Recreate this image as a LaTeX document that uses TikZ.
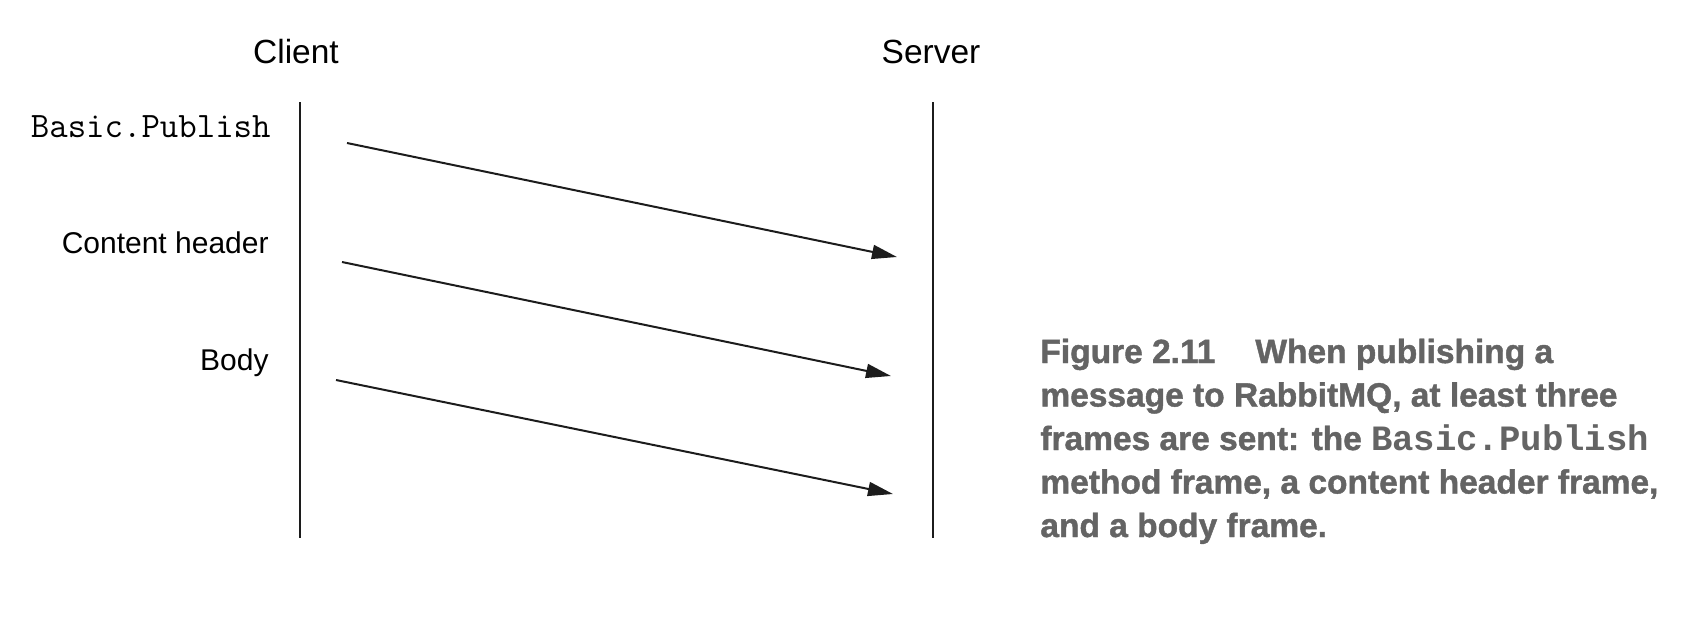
\documentclass[tikz,border=0pt]{standalone}
\usepackage{fontspec}
\setmainfont{Liberation Sans}
\newfontfamily\codefont{Liberation Mono}
\newfontfamily\capfont{Liberation Sans}[BoldFeatures={FakeBold=1.3}]
\usetikzlibrary{arrows.meta}
\definecolor{capgray}{RGB}{100,100,100}
\definecolor{linecol}{RGB}{28,28,28}
\tikzset{
  lifeline/.style={draw=linecol, line width=1pt},
  msg/.style={draw=linecol, line width=1pt, -{Triangle[length=12.5pt,width=7pt]}},
  hdr/.style={inner sep=0pt, anchor=base, font=\fontsize{16.75pt}{20pt}\selectfont},
  lbl/.style={inner sep=0pt, anchor=base east, font=\fontsize{15pt}{18pt}\selectfont},
  codelbl/.style={inner sep=0pt, anchor=base east, font=\ttfamily\fontsize{17.9pt}{20pt}\selectfont},
  capline/.style={inner sep=0pt, anchor=base west, text=capgray, font=\capfont\fontsize{16.75pt}{20pt}\selectfont\bfseries}
}
\begin{document}
\begin{tikzpicture}[x=0.5pt,y=-0.5pt]
\useasboundingbox (0,0) rectangle (1704,638);
% headers
\node[hdr] (client) at (296,63) {Client};
\node[hdr] (server) at (931,63) {Server};
% lifelines
\coordinate (ctop) at (300,102);
\coordinate (cbot) at (300,538);
\coordinate (stop) at (933,102);
\coordinate (sbot) at (933,538);
\draw[lifeline] (ctop) -- (cbot);
\draw[lifeline] (stop) -- (sbot);
% labels
\node[codelbl] (lpub) at (271,137) {Basic.Publish};
\node[lbl] (lhdr) at (269,253) {Content header};
\node[lbl] (lbody) at (269,370) {Body};
% messages
\coordinate (m1s) at (347,143);
\coordinate (m1e) at (897,257);
\coordinate (m2s) at (342,262);
\coordinate (m2e) at (891,376);
\coordinate (m3s) at (336,380);
\coordinate (m3e) at (893,494);
\draw[msg] (m1s) -- (m1e);
\draw[msg] (m2s) -- (m2e);
\draw[msg] (m3s) -- (m3e);
% caption
\node[capline] (cap1) at (1040,363) {Figure 2.11\hspace{20pt}When publishing a};
\node[capline] (cap2) at (1040,406.5) {message to RabbitMQ, at least three};
\node[capline] (cap3) at (1040,450) {frames are sent: the {\codefont\bfseries\fontsize{17.8pt}{20pt}\selectfont Basic.Publish}};
\node[capline] (cap4) at (1040,493.5) {method frame, a content header frame,};
\node[capline] (cap5) at (1040,537) {and a body frame.};
\end{tikzpicture}
\end{document}
